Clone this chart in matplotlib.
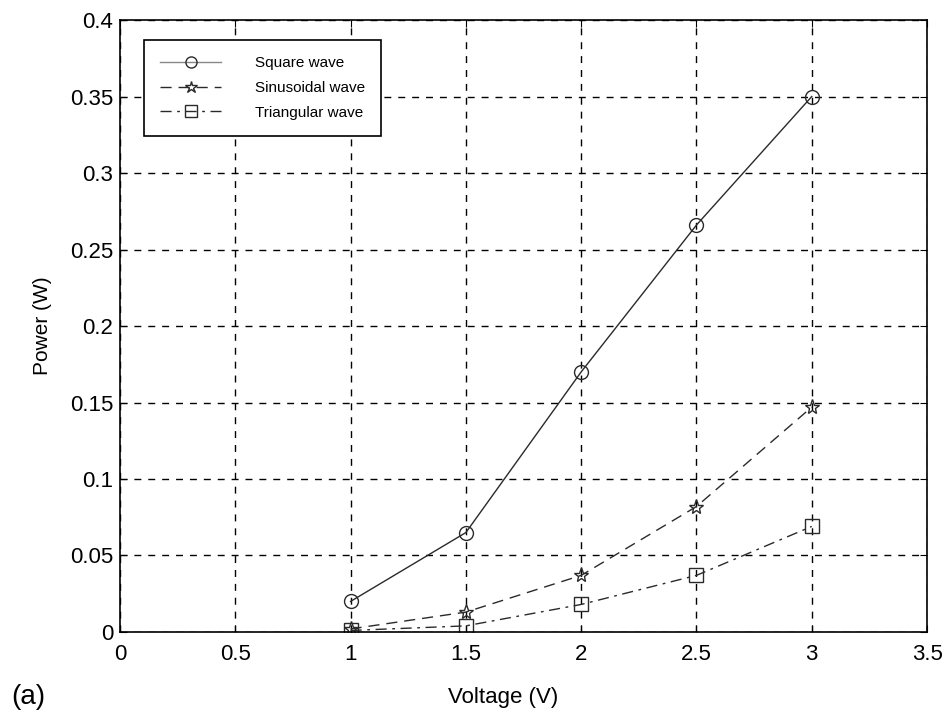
import matplotlib.pyplot as plt

plt.rcParams['font.family'] = ['Liberation Sans', 'DejaVu Sans']

# Data
voltage = [1.0, 1.5, 2.0, 2.5, 3.0]
square_wave = [0.020, 0.065, 0.170, 0.266, 0.350]
sinusoidal_wave = [0.002, 0.013, 0.037, 0.082, 0.147]
triangular_wave = [0.001, 0.004, 0.018, 0.037, 0.069]

x_ticks = [0, 0.5, 1, 1.5, 2, 2.5, 3, 3.5]
x_labels = ["0", "0.5", "1", "1.5", "2", "2.5", "3", "3.5"]
y_ticks = [0, 0.05, 0.1, 0.15, 0.2, 0.25, 0.3, 0.35, 0.4]
y_labels = ["0", "0.05", "0.1", "0.15", "0.2", "0.25", "0.3", "0.35", "0.4"]

fig = plt.figure(figsize=(9.48, 7.15), dpi=100)
ax = fig.add_axes([0.1266, 0.1161, 0.8513, 0.8559])

line_color = "#2a2a2a"
ax.plot(voltage, square_wave, color=line_color, linestyle="-", linewidth=1.0,
        marker="o", markersize=10, markerfacecolor="none", markeredgecolor=line_color,
        markeredgewidth=1.0, label="Square wave")
ax.plot(voltage, sinusoidal_wave, color=line_color, linestyle=(0, (8, 5)), linewidth=1.0,
        marker="*", markersize=11, markerfacecolor="none", markeredgecolor=line_color,
        markeredgewidth=1.0, label="Sinusoidal wave")
ax.plot(voltage, triangular_wave, color=line_color, linestyle=(0, (8, 4, 2, 4)), linewidth=1.0,
        marker="s", markersize=10, markerfacecolor="none", markeredgecolor=line_color,
        markeredgewidth=1.0, label="Triangular wave")

ax.set_xlim(0, 3.5)
ax.set_ylim(0, 0.4)
ax.set_xticks(x_ticks)
ax.set_xticklabels(x_labels)
ax.set_yticks(y_ticks)
ax.set_yticklabels(y_labels)
ax.tick_params(direction="in", labelsize=16, length=5, color="black",
               top=True, right=True)
ax.tick_params(axis="x", pad=9)
ax.tick_params(axis="y", pad=5)
ax.grid(True, color="black", linestyle=(0, (5, 5)), linewidth=1.0)
for s in ax.spines.values():
    s.set_linewidth(1.2)

ax.set_xlabel("Voltage (V)", fontsize=16)
ax.set_ylabel("Power (W)", fontsize=15)
ax.xaxis.set_label_coords(0.475, -0.09)
ax.yaxis.set_label_coords(-0.084, 0.5)

leg = ax.legend(loc="upper left", bbox_to_anchor=(0.0297, 0.967), borderaxespad=0,
                fontsize=11, frameon=True, fancybox=False, edgecolor="black",
                framealpha=1, handlelength=4.0, handletextpad=2.2, labelspacing=0.7,
                borderpad=1.05, markerscale=0.8)
leg.get_frame().set_linewidth(1.2)
leg.get_lines()[0].set_color("#888888")

fig.text(0.012, 0.025, "(a)", fontsize=20, va="center")

plt.savefig("out.png", dpi=100)
